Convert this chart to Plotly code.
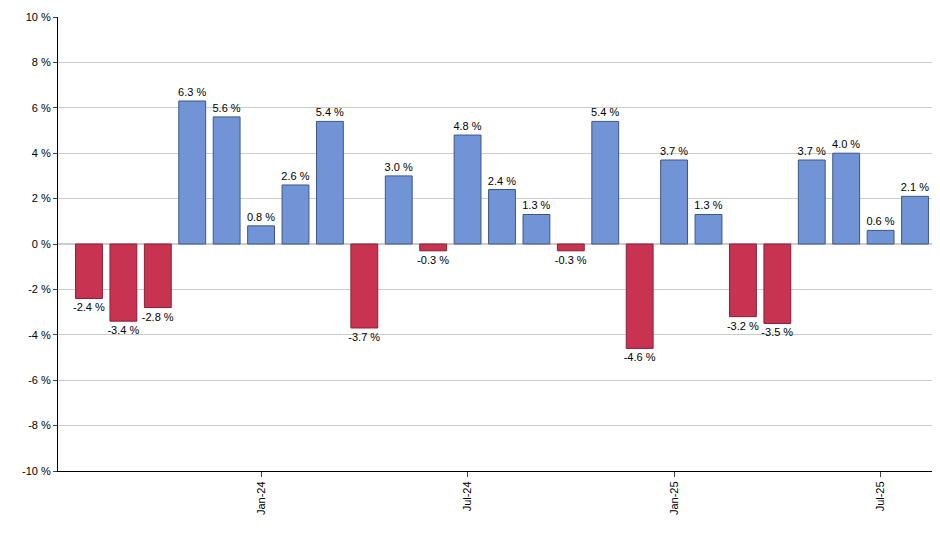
import plotly.graph_objects as go

months = ["Aug-23", "Sep-23", "Oct-23", "Nov-23", "Dec-23", "Jan-24", "Feb-24",
          "Mar-24", "Apr-24", "May-24", "Jun-24", "Jul-24", "Aug-24", "Sep-24",
          "Oct-24", "Nov-24", "Dec-24", "Jan-25", "Feb-25", "Mar-25", "Apr-25",
          "May-25", "Jun-25", "Jul-25", "Aug-25"]
returns = [-2.4, -3.4, -2.8, 6.3, 5.6, 0.8, 2.6, 5.4, -3.7, 3.0, -0.3, 4.8,
           2.4, 1.3, -0.3, 5.4, -4.6, 3.7, 1.3, -3.2, -3.5, 3.7, 4.0, 0.6, 2.1]
tick_months = ["Jan-24", "Jul-24", "Jan-25", "Jul-25"]
y_ticks = list(range(-10, 11, 2))

colors = ["#7094d6" if v >= 0 else "#c93352" for v in returns]
lines = ["#3d5687" if v >= 0 else "#8a1f36" for v in returns]

fig = go.Figure()
fig.add_trace(go.Bar(
    x=months,
    y=returns,
    width=0.78,
    marker=dict(color=colors, line=dict(color=lines, width=1)),
    text=[f"{v:.1f} %" for v in returns],
    textposition="outside",
    constraintext="none",
    textfont=dict(size=11, color="black", family="Arial, Liberation Sans"),
    cliponaxis=False,
    hovertemplate="%{x}: %{y:.1f} %<extra></extra>",
))

fig.update_layout(
    width=940,
    height=550,
    margin=dict(l=50, r=2, t=9, b=87),
    plot_bgcolor="white",
    paper_bgcolor="white",
    showlegend=False,
    font=dict(family="Arial, Liberation Sans", size=11, color="black"),
)
fig.update_xaxes(
    type="category",
    range=[-0.9, len(months) - 0.1],
    tickvals=tick_months,
    ticktext=tick_months,
    tickangle=-90,
    showline=True,
    linecolor="black",
    ticks="outside",
    ticklen=5,
    showgrid=False,
    automargin=False,
)
fig.update_yaxes(
    range=[-10, 10],
    tickvals=y_ticks,
    ticktext=[f"{v} %" for v in y_ticks],
    showline=True,
    linecolor="black",
    ticks="outside",
    ticklen=4,
    gridcolor="#cccccc",
    zeroline=True,
    zerolinecolor="#cccccc",
    automargin=False,
)

fig.write_html("out.html")
